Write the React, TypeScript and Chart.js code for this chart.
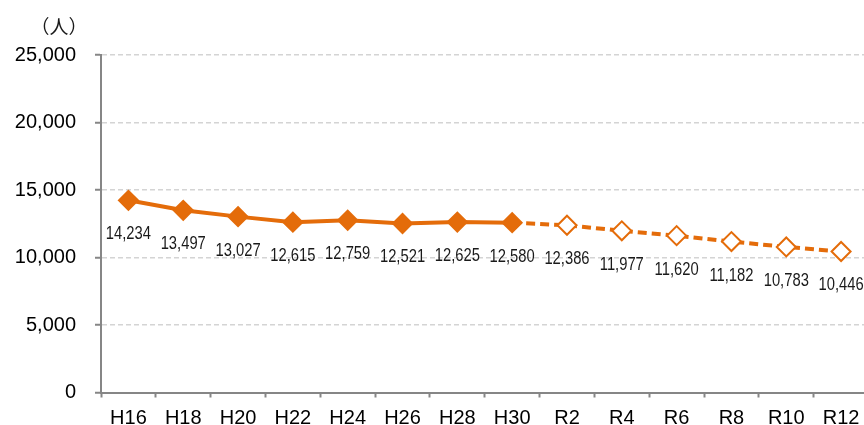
import React, { useEffect, useRef } from "react";
import { Chart, registerables } from "chart.js";

Chart.register(...registerables);

const actualYears = ["H16", "H18", "H20", "H22", "H24", "H26", "H28", "H30"];
const projectedYears = ["R2", "R4", "R6", "R8", "R10", "R12"];
const actualPopulation = [14234, 13497, 13027, 12615, 12759, 12521, 12625, 12580];
const projectedPopulation = [12386, 11977, 11620, 11182, 10783, 10446];
const yTicks = [0, 5000, 10000, 15000, 20000, 25000];
const unitLabel = "（人）";

const ORANGE = "#E46C0A";
const AXIS = "#868686";
const GRID = "#D4D4D4";

const labelPlugin = {
  id: "valueLabels",
  afterDatasetsDraw(chart: any) {
    const ctx = chart.ctx;
    const meta = chart.getDatasetMeta(0);
    const data = chart.data.datasets[0].data as number[];
    ctx.save();
    ctx.fillStyle = "#1a1a1a";
    ctx.font = '18px "Liberation Sans", Arial, sans-serif';
    ctx.textAlign = "center";
    ctx.textBaseline = "middle";
    meta.data.forEach((pt: any, i: number) => {
      ctx.save();
      ctx.translate(pt.x, pt.y + 34);
      ctx.scale(0.82, 1);
      ctx.fillText(data[i].toLocaleString("en-US"), 0, 0);
      ctx.restore();
    });
    ctx.font = '19px "Noto Sans CJK JP", sans-serif';
    ctx.fillStyle = "#1a1a1a";
    ctx.fillText(unitLabel, 59, 27);
    ctx.restore();
  },
};

export default function App() {
  const ref = useRef<HTMLCanvasElement>(null);
  useEffect(() => {
    const labels = [...actualYears, ...projectedYears];
    const values = [...actualPopulation, ...projectedPopulation];
    const nActual = actualPopulation.length;
    const chart = new Chart(ref.current!, {
      type: "line",
      data: {
        labels,
        datasets: [
          {
            data: values,
            borderColor: ORANGE,
            borderWidth: 4,
            tension: 0,
            pointStyle: "rectRot",
            pointRadius: 9.5,
            pointBorderWidth: 2,
            pointBorderColor: ORANGE,
            pointBackgroundColor: values.map((_, i) => (i < nActual ? ORANGE : "#ffffff")),
            segment: {
              borderDash: (c: any) => (c.p0DataIndex >= nActual - 1 ? [9, 5] : undefined),
            },
          },
        ],
      },
      options: {
        responsive: false,
        animation: false,
        devicePixelRatio: 1,
        events: [],
        layout: { padding: { top: 55, right: 4.5, bottom: 0, left: 0 } },
        plugins: { legend: { display: false }, tooltip: { enabled: false } },
        scales: {
          x: {
            offset: true,
            grid: {
              offset: true,
              drawOnChartArea: false,
              drawTicks: true,
              tickLength: 5,
              tickColor: AXIS,
              tickWidth: 2,
            },
            border: { display: true, color: AXIS, width: 2 },
            ticks: {
              color: "#000",
              font: { family: '"Liberation Sans", Arial, sans-serif', size: 20 },
              padding: 9,
              maxRotation: 0,
              autoSkip: false,
            },
            afterFit: (s: any) => {
              s.height = 32.5;
            },
          },
          y: {
            min: 0,
            max: 25000,
            afterBuildTicks: (s: any) => {
              s.ticks = yTicks.map((v) => ({ value: v }));
            },
            grid: {
              color: GRID,
              lineWidth: 1.5,
              drawTicks: true,
              tickLength: 6,
              tickColor: AXIS,
              tickWidth: 2,
            },
            border: { display: true, color: AXIS, width: 2, dash: [5, 3] },
            ticks: {
              color: "#000",
              font: { family: '"Liberation Sans", Arial, sans-serif', size: 20 },
              padding: 19,
              callback: (v: any) => Number(v).toLocaleString("en-US"),
            },
            afterFit: (s: any) => {
              s.width = 101;
            },
          },
        },
      },
      plugins: [labelPlugin],
    });
    return () => chart.destroy();
  }, []);
  return (
    <div style={{ position: "fixed", left: 0, top: 0, width: 864, height: 425, overflow: "hidden", background: "#fff" }}>
      <canvas ref={ref} width={880} height={425} style={{ display: "block" }} />
    </div>
  );
}
